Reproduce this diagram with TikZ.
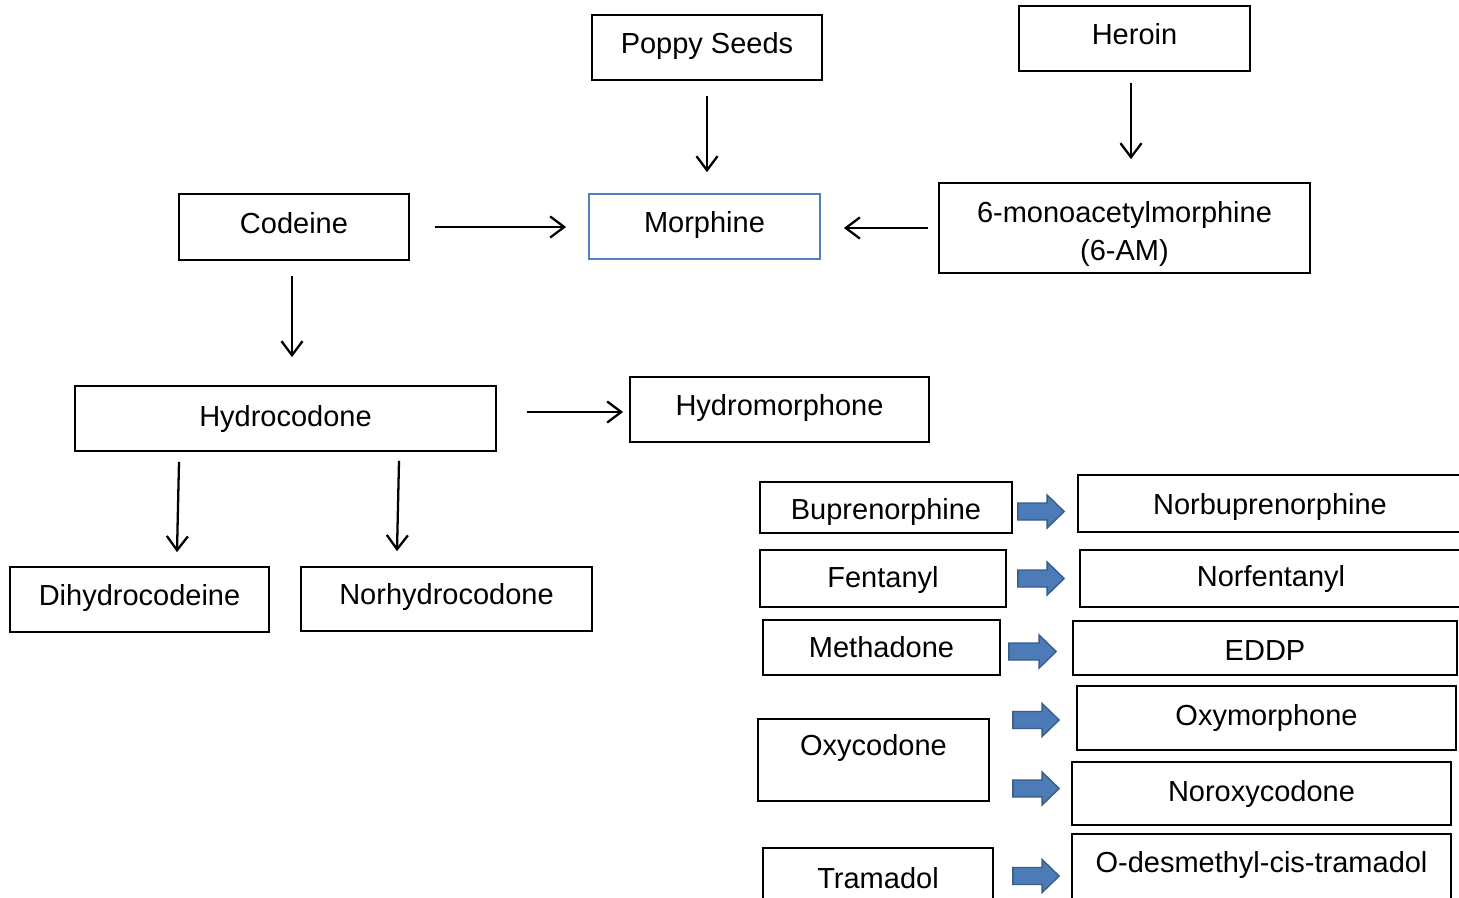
\documentclass[tikz,border=0pt]{standalone}
\usepackage{fontspec}
\setmainfont{Liberation Sans}
\usepackage{tikz}
\usetikzlibrary{arrows.meta,calc,positioning}
\definecolor{mblue}{RGB}{79,129,189}
\definecolor{fatfill}{RGB}{76,123,183}
\definecolor{fatedge}{RGB}{56,93,138}
\newcommand{\lift}[2]{\raisebox{#1}[\height][\depth]{#2}}
\tikzstyle{drug} = [rectangle, draw=black, line width=1pt, text centered, align=center, inner sep=0pt, font=\fontsize{16.5}{21.5}\selectfont]
\tikzstyle{arrow} = [line width=1.3pt, -{Straight Barb[length=8pt,width=12pt]}]
\tikzstyle{fatarrow} = [draw=fatedge, fill=fatfill, line width=0.8pt, to path={let \p1=(\tikztostart), \p2=(\tikztotarget) in (\x1,\y1+0.17cm) -- (\x2-0.34cm,\y1+0.17cm) -- (\x2-0.34cm,\y1+0.33cm) -- (\x2,\y1) -- (\x2-0.34cm,\y1-0.33cm) -- (\x2-0.34cm,\y1-0.17cm) -- (\x1,\y1-0.17cm) -- cycle}]

\begin{document}
\begin{tikzpicture}
\useasboundingbox (0,0) rectangle (29.18,-17.94);
\clip (0,0) rectangle (29.18,-17.94);

% Sources
\node (poppy) [drug, minimum width=4.6cm, minimum height=1.3cm] at (14.14,-0.95) {\lift{1.1pt}{Poppy Seeds}};
\node (heroin) [drug, minimum width=4.62cm, minimum height=1.3cm] at (22.69,-0.77) {\lift{2.3pt}{Heroin}};
\node (codeine) [drug, minimum width=4.6cm, minimum height=1.32cm] at (5.88,-4.54) {\lift{2.3pt}{Codeine}};
\node (morphine) [drug, draw=mblue, minimum width=4.62cm, minimum height=1.3cm] at (14.09,-4.53) {\lift{1.1pt}{Morphine}};
\node (sixam) [drug, minimum width=7.42cm, minimum height=1.8cm] at (22.49,-4.56) {\rule{0pt}{19pt}6-monoacetylmorphine\\(6-AM)};

% Hydrocodone branch
\node (hydro) [drug, minimum width=8.42cm, minimum height=1.3cm] at (5.71,-8.37) {Hydrocodone};
\node (hydromorph) [drug, minimum width=5.98cm, minimum height=1.3cm] at (15.59,-8.19) {\lift{1.1pt}{Hydromorphone}};
\node (dihydro) [drug, minimum width=5.18cm, minimum height=1.3cm] at (2.79,-11.99) {\lift{1.1pt}{Dihydrocodeine}};
\node (norhydro) [drug, minimum width=5.82cm, minimum height=1.28cm] at (8.93,-11.98) {\lift{1.1pt}{Norhydrocodone}};

% Parent drugs and metabolites
\node (bup) [drug, minimum width=5.04cm, minimum height=1.02cm] at (17.72,-10.15) {\lift{-2.8pt}{Buprenorphine}};
\node (norbup) [drug, minimum width=7.68cm, minimum height=1.14cm] at (25.4,-10.07) {\lift{-1.7pt}{Norbuprenorphine}};
\node (fent) [drug, minimum width=4.92cm, minimum height=1.14cm] at (17.66,-11.57) {\lift{-1.1pt}{Fentanyl}};
\node (norfent) [drug, minimum width=7.64cm, minimum height=1.14cm] at (25.42,-11.57) {Norfentanyl};
\node (methadone) [drug, minimum width=4.74cm, minimum height=1.1cm] at (17.63,-12.95) {Methadone};
\node (eddp) [drug, minimum width=7.68cm, minimum height=1.08cm] at (25.3,-12.96) {\lift{-1.7pt}{EDDP}};
\node (oxycodone) [drug, minimum width=4.62cm, minimum height=1.64cm] at (17.47,-15.2) {\lift{6.8pt}{Oxycodone}};
\node (oxymorph) [drug, minimum width=7.58cm, minimum height=1.28cm] at (25.33,-14.36) {Oxymorphone};
\node (noroxy) [drug, minimum width=7.58cm, minimum height=1.26cm] at (25.23,-15.87) {Noroxycodone};
\node (tramadol) [drug, minimum width=4.6cm, minimum height=1.2cm] at (17.56,-17.56) {Tramadol};
\node (odesm) [drug, minimum width=7.58cm, minimum height=1.32cm] at (25.23,-17.34) {\lift{1.1pt}{O-desmethyl-cis-tramadol}};

% Arrows
\draw[arrow, shorten <=0.3cm, shorten >=0.42cm] (poppy.south) -- (poppy.south |- morphine.north);
\draw[arrow, shorten <=0.22cm, shorten >=0.46cm] ([xshift=-0.07cm]heroin.south) -- ([xshift=-0.07cm]heroin.south |- sixam.north);
\draw[arrow, shorten <=0.5cm, shorten >=0.44cm] (codeine.east) -- (codeine.east -| morphine.west);
\draw[arrow, shorten <=0.2cm, shorten >=0.46cm] (sixam.west) -- (sixam.west -| morphine.east);
\draw[arrow, shorten <=0.3cm, shorten >=0.56cm] ([xshift=-0.04cm]codeine.south) -- ([xshift=-0.04cm]codeine.south |- hydro.north);
\draw[arrow, shorten <=0.6cm, shorten >=0.12cm] ([yshift=0.13cm]hydro.east) -- ([yshift=0.13cm]hydro.east -| hydromorph.west);
\draw[arrow] ([xshift=-2.13cm,yshift=-0.2cm]hydro.south) -- ([xshift=0.75cm,yshift=0.28cm]dihydro.north);
\draw[arrow] ([xshift=2.27cm,yshift=-0.18cm]hydro.south) -- ([xshift=-0.99cm,yshift=0.3cm]norhydro.north);

% Block arrows
\draw[fatarrow] ([xshift=0.1cm,yshift=-0.08cm]bup.east) to ([xshift=-0.26cm]norbup.west);
\draw[fatarrow] ([xshift=0.22cm]fent.east) to ([xshift=-0.3cm]norfent.west);
\draw[fatarrow] ([xshift=0.16cm,yshift=-0.08cm]methadone.east) to ([xshift=-0.32cm]eddp.west);
\draw[fatarrow] ([xshift=0.46cm,yshift=0.8cm]oxycodone.east) to ([xshift=-0.34cm]oxymorph.west);
\draw[fatarrow] ([xshift=0.46cm,yshift=-0.57cm]oxycodone.east) to ([xshift=-0.24cm]noroxy.west);
\draw[fatarrow] ([xshift=0.38cm,yshift=0.04cm]tramadol.east) to ([xshift=-0.24cm]odesm.west);
\end{tikzpicture}
\end{document}
